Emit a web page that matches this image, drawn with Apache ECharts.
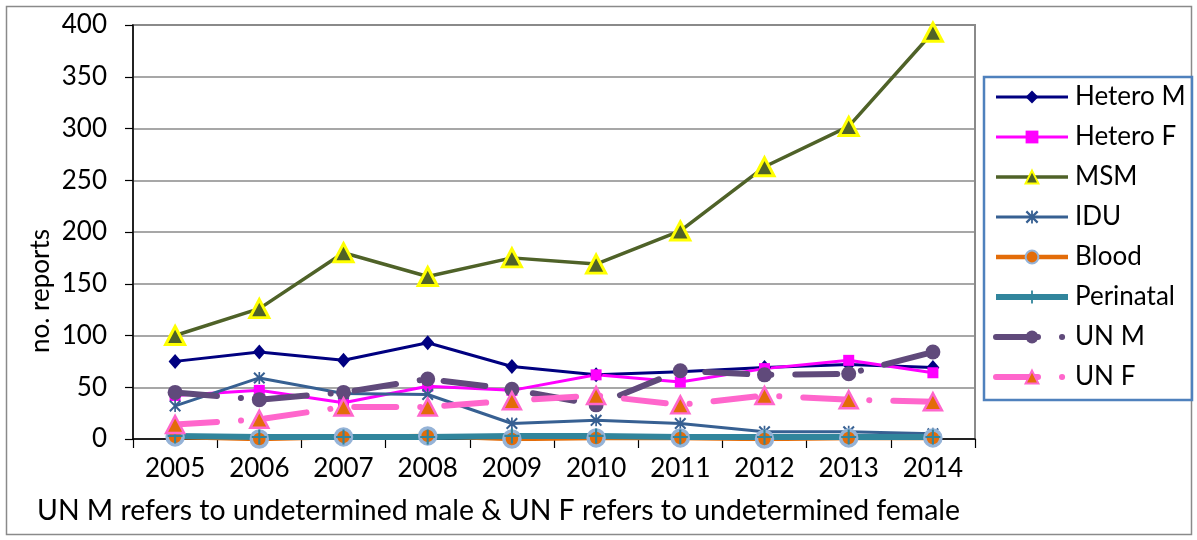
<!DOCTYPE html>
<html>
<head>
<meta charset="utf-8">
<script src="https://cdn.jsdelivr.net/npm/echarts@6/dist/echarts.min.js"></script>
<style>
  html, body { margin: 0; padding: 0; background: #ffffff; }
  #chart { width: 1197px; height: 540px; }
</style>
</head>
<body>
<div id="chart"></div>
<script>
// Reports per year by exposure category
const years = ['2005', '2006', '2007', '2008', '2009', '2010', '2011', '2012', '2013', '2014'];
const heteroM   = [75, 84, 76, 93, 70, 62, 65, 69, 72, 69];
const heteroF   = [42, 47, 35, 51, 47, 62, 55, 68, 76, 64];
const msm       = [100, 126, 180, 157, 175, 169, 201, 263, 302, 393];
const idu       = [32, 59, 44, 43, 15, 18, 15, 7, 7, 5];
const blood     = [2, 0, 2, 3, 0, 1, 1, 0, 1, 1];
const perinatal = [3, 2, 2, 2, 3, 3, 2, 2, 2, 2];
const unM       = [45, 38, 45, 58, 48, 33, 66, 62, 63, 84];
const unF       = [14, 19, 31, 31, 37, 42, 33, 42, 38, 36];
const yTicks    = { min: 0, max: 400, step: 50 };

const FONT = 'Lato';
const plusPath = 'path://M4.3,0 L5.7,0 L5.7,4.3 L10,4.3 L10,5.7 L5.7,5.7 L5.7,10 L4.3,10 L4.3,5.7 L0,5.7 L0,4.3 L4.3,4.3 Z';
const starPath = 'path://M4.3,0 L5.7,0 L5.7,10 L4.3,10 Z M0,1.2 L1.2,0 L10,8.8 L8.8,10 Z M8.8,0 L10,1.2 L1.2,10 L0,8.8 Z';
const longDashDot = [42, 24, 0.1, 24];

function lineSeries(name, data, opts) {
  return Object.assign({
    name: name,
    type: 'line',
    data: data,
    showSymbol: true,
    symbolKeepAspect: true,
    animation: false
  }, opts);
}

const chart = echarts.init(document.getElementById('chart'), null, { renderer: 'canvas' });

chart.setOption({
  backgroundColor: '#ffffff',
  animation: false,
  grid: {
    left: 133, right: 222, top: 25, bottom: 101,
    show: true, borderColor: '#8a8a8a', borderWidth: 2, backgroundColor: '#ffffff'
  },
  legend: {
    orient: 'vertical',
    left: 993, top: 84,
    padding: 0,
    itemWidth: 72, itemHeight: 16, itemGap: 14,
    lineStyle: { width: 'inherit' },
    textStyle: { fontFamily: FONT, fontSize: 26, color: '#000', lineHeight: 26, padding: [0, 0, 0, 2] },
    data: ['Hetero M', 'Hetero F', 'MSM', 'IDU', 'Blood', 'Perinatal', 'UN M', 'UN F']
  },
  xAxis: {
    type: 'category',
    data: years,
    boundaryGap: true,
    axisLine: { lineStyle: { color: '#000', width: 1.5 } },
    axisTick: { show: true, length: 9, lineStyle: { color: '#000', width: 1.2 } },
    axisLabel: { margin: 17, fontFamily: FONT, fontSize: 26, color: '#000' },
    splitLine: { show: false }
  },
  yAxis: {
    type: 'value',
    min: yTicks.min, max: yTicks.max, interval: yTicks.step,
    axisLine: { show: true, lineStyle: { color: '#000', width: 1.5 } },
    axisTick: { show: true, length: 8, lineStyle: { color: '#000', width: 1.2 } },
    axisLabel: { margin: 26, fontFamily: FONT, fontSize: 26, color: '#000' },
    splitLine: { show: true, lineStyle: { color: '#8a8a8a', width: 1.5 } }
  },
  graphic: [
    {
      type: 'rect', silent: true, z: -10,
      shape: { x: 6.5, y: 6.5, width: 1185, height: 528 },
      style: { fill: 'none', stroke: '#8a8a8a', lineWidth: 1.5 }
    },
    {
      type: 'rect', silent: true,
      shape: { x: 984, y: 77, width: 208, height: 323 },
      style: { fill: 'none', stroke: '#4f81bd', lineWidth: 2.5 }
    },
    {
      type: 'text', silent: true,
      x: 41, y: 291, rotation: Math.PI / 2,
      style: { text: 'no. reports', fontFamily: FONT, fontSize: 26, fill: '#000', align: 'center', verticalAlign: 'middle' }
    },
    {
      type: 'text', silent: true,
      x: 37, y: 511,
      style: { text: 'UN M refers to undetermined male & UN F refers to undetermined female', fontFamily: FONT, fontSize: 28.4, fill: '#000', align: 'left', verticalAlign: 'middle' }
    }
  ],
  series: [
    lineSeries('Hetero M', heteroM, {
      symbol: 'diamond', symbolSize: [13, 15],
      lineStyle: { color: '#000080', width: 3 },
      itemStyle: { color: '#000080' }
    }),
    lineSeries('Hetero F', heteroF, {
      symbol: 'rect', symbolSize: 11,
      lineStyle: { color: '#ff00ff', width: 3 },
      itemStyle: { color: '#ff00ff' }
    }),
    lineSeries('MSM', msm, {
      symbol: 'triangle', symbolSize: [19, 18],
      lineStyle: { color: '#4f6228', width: 3.5 },
      itemStyle: { color: '#4f6228', borderColor: '#ffff00', borderWidth: 3 }
    }),
    lineSeries('IDU', idu, {
      symbol: starPath, symbolSize: 12,
      lineStyle: { color: '#376092', width: 3 },
      itemStyle: { color: '#376092' }
    }),
    lineSeries('Blood', blood, {
      symbol: 'circle', symbolSize: 16,
      lineStyle: { color: '#e36c09', width: 4.5 },
      itemStyle: { color: '#e36c09', borderColor: '#95b3d7', borderWidth: 3.5 }
    }),
    lineSeries('Perinatal', perinatal, {
      symbol: plusPath, symbolSize: 15,
      lineStyle: { color: '#31859c', width: 6 },
      itemStyle: { color: '#31859c' }
    }),
    lineSeries('UN M', unM, {
      symbol: 'circle', symbolSize: 15,
      lineStyle: { color: '#604a7b', width: 6, type: longDashDot, cap: 'round' },
      itemStyle: { color: '#604a7b' }
    }),
    lineSeries('UN F', unF, {
      symbol: 'triangle', symbolSize: [18, 17],
      lineStyle: { color: '#ff66cc', width: 6, type: longDashDot, cap: 'round' },
      itemStyle: { color: '#e36c09', borderColor: '#ff66cc', borderWidth: 2.5 }
    })
  ]
});
</script>
</body>
</html>
